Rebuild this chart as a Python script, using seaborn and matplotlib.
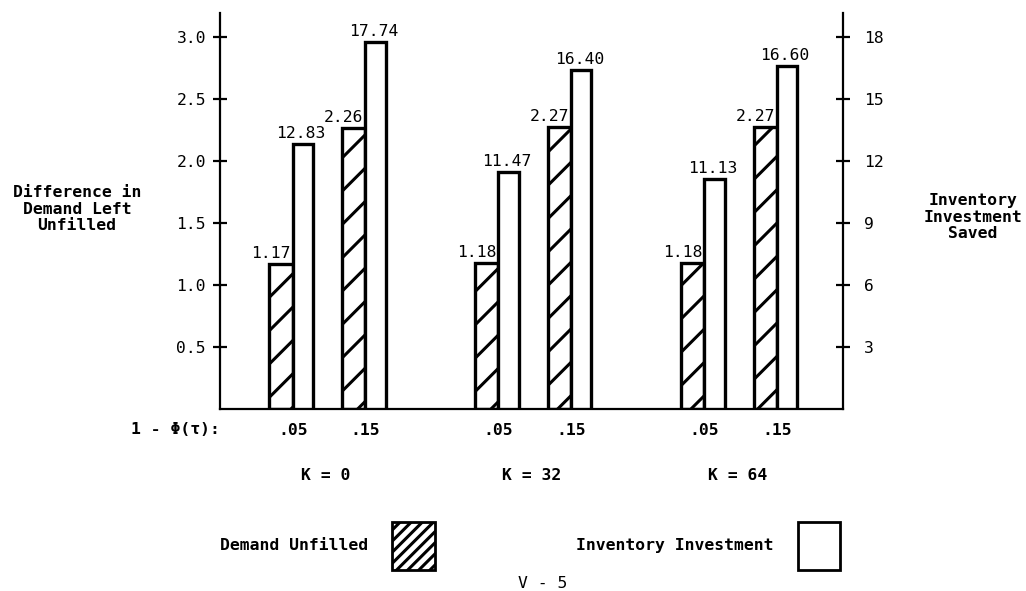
import pandas as pd
import seaborn as sns
import matplotlib.pyplot as plt
from matplotlib.patches import Patch

# values
k_values = ["0", "32", "64"]
phi_levels = [".05", ".15"]
demand_unfilled = [1.17, 2.26, 1.18, 2.27, 1.18, 2.27]
inventory_saved = [12.83, 17.74, 11.47, 16.40, 11.13, 16.60]
left_ticks = [0.5, 1.0, 1.5, 2.0, 2.5, 3.0]
right_ticks = [3, 6, 9, 12, 15, 18]

GROUP_GAP = 2.83   # spacing between K groups (in units of the .05 -> .15 spacing)
W_DEM, W_INV = 0.32, 0.28
FS = 5.9

sns.set_theme(style="white", rc={"axes.edgecolor": "black", "text.color": "black",
                                 "xtick.color": "black", "ytick.color": "black"})
plt.rcParams["font.family"] = ["DejaVu Sans Mono", "DejaVu Sans"]
plt.rcParams["hatch.linewidth"] = 1.1
plt.rcParams["hatch.color"] = "black"

rows = []
for g, k in enumerate(k_values):
    for j, phi in enumerate(phi_levels):
        rows.append({"K": k, "phi": phi, "pos": g * GROUP_GAP + j})
df = pd.DataFrame(rows)
df["demand"] = demand_unfilled
df["inventory"] = inventory_saved
df["x_dem"] = df["pos"] - W_DEM / 2
df["x_inv"] = df["pos"] + W_INV / 2

fig = plt.figure(figsize=(5.13, 2.955), dpi=200)
ax1 = fig.add_axes([220 / 1026, 1 - 409 / 591, 623 / 1026, 396 / 591])
ax2 = ax1.twinx()

sns.barplot(data=df, x="x_dem", y="demand", orient="x", native_scale=True, width=W_DEM,
            color="white", saturation=1, edgecolor="black", linewidth=1.2, errorbar=None, ax=ax1)
sns.barplot(data=df, x="x_inv", y="inventory", orient="x", native_scale=True, width=W_INV,
            color="white", saturation=1, edgecolor="black", linewidth=1.2, errorbar=None, ax=ax2)
for p in ax1.patches:
    p.set_hatch("//")

ax1.set_xlim(-1.0, 7.57)
ax1.set_ylim(0, 3.19)
ax2.set_ylim(0, 3.19 * 6)

for ax in (ax1, ax2):
    ax.set_xlabel("")
    ax.set_ylabel("")
    ax.grid(False)
    ax.spines["top"].set_visible(False)
ax1.spines["right"].set_visible(False)
ax2.spines["left"].set_visible(False)
ax2.spines["bottom"].set_visible(False)
for sp in ("left", "bottom"):
    ax1.spines[sp].set_linewidth(0.8)
ax2.spines["right"].set_linewidth(0.8)

ax1.set_yticks(left_ticks)
ax1.set_yticklabels([f"{t:.1f}" for t in left_ticks])
ax1.tick_params(axis="y", direction="inout", length=5, width=0.8, pad=2.5, labelsize=FS, left=True)
ax2.set_yticks(right_ticks)
ax2.set_yticklabels([str(t) for t in right_ticks])
ax2.tick_params(axis="y", direction="inout", length=5, width=0.8, pad=5, labelsize=FS, right=True)

ax1.set_xticks(df["pos"])
ax1.set_xticklabels(df["phi"], fontweight="bold")
ax1.tick_params(axis="x", length=0, pad=5.0, labelsize=FS)

# value labels
for p in ax1.patches:
    ax2.annotate(f"{p.get_height():.2f}", (p.get_x() + p.get_width() / 2, p.get_height()),
                 xycoords=ax1.transData, xytext=(-10, 3), textcoords="offset pixels",
                 ha="center", va="bottom", fontsize=FS)
for p in ax2.patches:
    ax2.annotate(f"{p.get_height():.2f}", (p.get_x() + p.get_width() / 2, p.get_height()),
                 xytext=(-2, 3), textcoords="offset pixels",
                 ha="center", va="bottom", fontsize=FS)

# group labels
for g, k in enumerate(k_values):
    gc = df.loc[df["K"] == k, "pos"].mean()
    ax1.annotate(f"K = {k}", (gc, 0), xycoords=("data", "axes fraction"),
                 xytext=(-3, -66), textcoords="offset pixels", ha="center", va="center",
                 fontsize=FS, fontweight="bold")

fig.text(220 / 1026, 1 - 430 / 591, "1 - Φ(τ):", ha="right", va="center",
         fontsize=FS, fontweight="bold")
fig.text(77 / 1026, 1 - 209 / 591, "Difference in\nDemand Left\nUnfilled", ha="center",
         va="center", multialignment="center", fontsize=FS, fontweight="bold", linespacing=1.15)
fig.text(973 / 1026, 1 - 217 / 591, "Inventory\nInvestment\nSaved", ha="center",
         va="center", multialignment="center", fontsize=FS, fontweight="bold", linespacing=1.15)
fig.text(543 / 1026, 1 - 583 / 591, "V - 5", ha="center", va="center", fontsize=FS)

handles = [Patch(facecolor="white", edgecolor="black", hatch="//////", linewidth=1.0),
           Patch(facecolor="white", edgecolor="black", linewidth=1.0)]
fig.legend(handles, ["Demand Unfilled", "Inventory Investment"], ncol=2, markerfirst=False,
           frameon=False, loc="center", bbox_to_anchor=(530 / 1026, 1 - 546 / 591),
           handlelength=2.6, handleheight=4.2, handletextpad=1.5, columnspacing=8.6,
           borderpad=0, prop={"size": FS, "weight": "bold"})

fig.savefig("out.png", dpi=200, facecolor="white")
plt.close(fig)
